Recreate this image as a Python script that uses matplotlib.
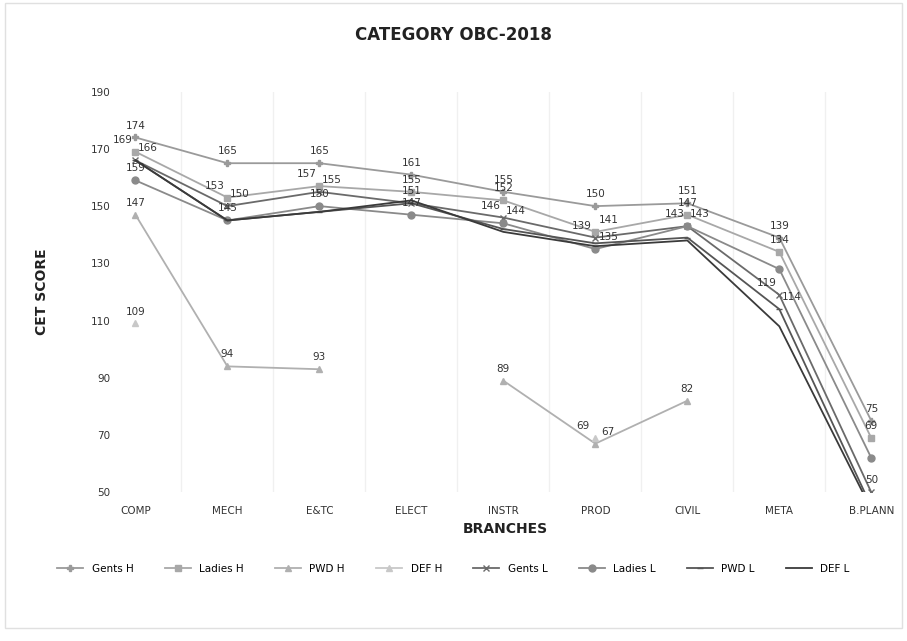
import numpy as np
import matplotlib
matplotlib.use("Agg")
import matplotlib.pyplot as plt

categories = ["COMP", "MECH", "E&TC", "ELECT", "INSTR", "PROD", "CIVIL", "META", "B.PLANN"]
nan = np.nan
gents_h  = [174, 165, 165, 161, 155, 150, 151, 139, 75]
ladies_h = [169, 153, 157, 155, 152, 141, 147, 134, 69]
pwd_h    = [147, 94, 93, nan, 89, 67, 82, nan, nan]
def_h    = [109, nan, nan, nan, nan, 69, nan, nan, nan]
gents_l  = [166, 150, 155, 151, 146, 139, 143, 119, 50]
ladies_l = [159, 145, 150, 147, 144, 135, 143, 128, 62]
pwd_l    = [166, 145, 148, 151, 142, 137, 139, 114, 45]
def_l    = [166, 145, 148, 152, 141, 136, 138, 108, 44]

# which points carry a data label
lab_gh = [1, 1, 1, 1, 1, 1, 1, 1, 1]
lab_lh = [1, 1, 1, 1, 1, 1, 1, 1, 1]
lab_ph = [1, 1, 1, 0, 1, 1, 1, 0, 0]
lab_dh = [1, 0, 0, 0, 0, 1, 0, 0, 0]
lab_gl = [1, 1, 1, 1, 1, 1, 1, 1, 1]
lab_ll = [1, 1, 1, 1, 1, 1, 1, 0, 0]
lab_pl = [0, 0, 0, 0, 0, 0, 0, 1, 0]
lab_dl = [0, 0, 0, 0, 0, 0, 0, 0, 0]

series = [
    ("Gents H", gents_h, lab_gh, dict(color="#9a9a9a", marker="P", ls="-", ms=5)),
    ("Ladies H", ladies_h, lab_lh, dict(color="#a8a8a8", marker="s", ls="-", ms=4)),
    ("PWD H", pwd_h, lab_ph, dict(color="#b0b0b0", marker="^", ls="-", ms=5)),
    ("DEF H", def_h, lab_dh, dict(color="#c8c8c8", marker="^", ls="-", ms=4)),
    ("Gents L", gents_l, lab_gl, dict(color="#6a6a6a", marker="x", ls="-", ms=4)),
    ("Ladies L", ladies_l, lab_ll, dict(color="#8a8a8a", marker="o", ls="-", ms=5)),
    ("PWD L", pwd_l, lab_pl, dict(color="#555555", marker="_", ls="-", ms=5)),
    ("DEF L", def_l, lab_dl, dict(color="#3a3a3a", marker=None, ls="-", ms=0)),
]

# horizontal nudges (points) for labels that would sit on top of each other
nudge = {
    ("Ladies H", 2): -9, ("Gents L", 2): 9,
    ("Gents L", 4): -9, ("Ladies L", 4): 9,
    ("PWD H", 5): 9, ("DEF H", 5): -9,
    ("Gents L", 5): -10, ("Ladies L", 5): 10, ("Ladies H", 5): 10,
    ("Gents L", 6): -9, ("Ladies L", 6): 9,
    ("Ladies H", 0): -9, ("Gents L", 0): 9,
    ("Gents L", 7): -9, ("PWD L", 7): 9,
    ("Ladies H", 1): -9, ("Gents L", 1): 9,
}

fig = plt.figure(figsize=(9.07, 6.41), dpi=100)
ax = fig.add_axes([0.127, 0.232, 0.86, 0.625])
x = np.arange(len(categories))

for name, vals, labs, st in series:
    v = np.array(vals, dtype=float)
    ax.plot(x, v, label=name, lw=1.3, **st)
    for i, (xi, yi, lb) in enumerate(zip(x, v, labs)):
        if lb and not np.isnan(yi):
            ax.annotate(f"{int(yi)}", (xi, yi), xytext=(nudge.get((name, i), 0), 5),
                        textcoords="offset points", ha="center", va="bottom",
                        fontsize=7.5, color="#333333")

ax.set_ylim(50, 190)
ax.set_xlim(-0.22, 8.26)
ax.set_yticks(np.arange(50, 191, 20))
ax.set_xticks(x)
ax.set_xticklabels(categories, fontsize=7.5, color="#333333")
ax.tick_params(axis="y", labelsize=7.5, colors="#333333", length=0)
ax.tick_params(axis="x", length=0, pad=10)
for s in ax.spines.values():
    s.set_visible(False)
for b in np.arange(0.5, 8.5, 1):
    ax.axvline(b, color="#f0f0f0", lw=1, zorder=0)

fig.text(0.5, 0.945, "CATEGORY OBC-2018", ha="center", va="center",
         fontsize=12, fontweight="bold", color="#222222")
ax.set_ylabel("CET SCORE", fontsize=10, fontweight="bold", color="#222222", labelpad=30)
ax.set_xlabel("BRANCHES", fontsize=10, fontweight="bold", color="#222222", labelpad=4)

fig.legend(loc="lower center", bbox_to_anchor=(0.5, 0.09), ncol=8, frameon=False,
           fontsize=7.5, handlelength=2.5, columnspacing=3.0)
fig.patches.append(plt.Rectangle((0.005, 0.02), 0.99, 0.975, transform=fig.transFigure,
                                 fill=False, edgecolor="#e0e0e0", lw=1))
fig.savefig("out.png", dpi=100)
